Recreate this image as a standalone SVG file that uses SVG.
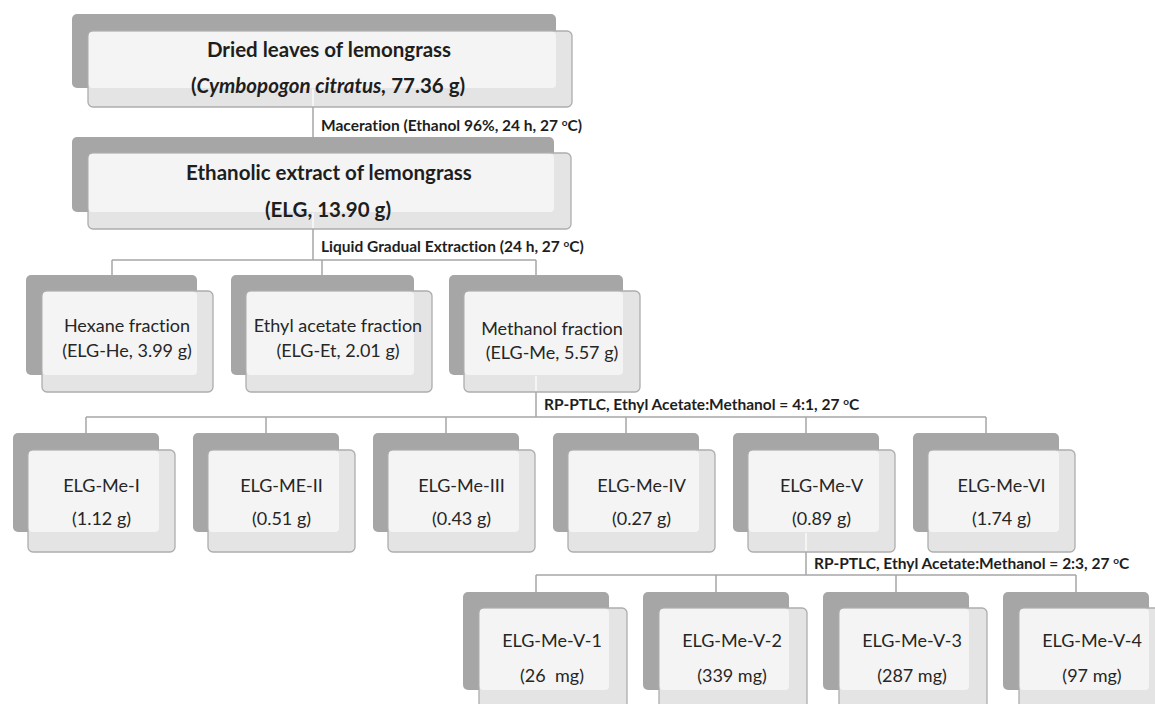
<svg xmlns="http://www.w3.org/2000/svg" width="1155" height="704" viewBox="0 0 1155 704">
<style>
.bk{fill:#a6a6a6}
.fr{fill:#e4e4e4;stroke:#adadad;stroke-width:1.3}
.in{fill:#f4f4f4}
text{font-variant-ligatures:none}
.t{font-family:Lato,"Open Sans","Liberation Sans",sans-serif;font-size:18px;fill:#262626;text-anchor:middle}
.tb{font-family:Lato,"Open Sans","Liberation Sans",sans-serif;font-size:20.5px;font-weight:bold;fill:#1e1e1e;text-anchor:middle}
.lb{font-family:Lato,"Open Sans","Liberation Sans",sans-serif;font-size:15.5px;font-weight:bold;fill:#1e1e1e}
.cn{stroke:#a6a6a6;stroke-width:1.5;fill:none}
.hl{stroke:#fafafa;stroke-width:1.5;fill:none}
</style>
<rect width="1155" height="704" fill="#ffffff"/>

<g id="node-dried-leaves">
<rect class="bk" x="72" y="14" width="484" height="74" rx="5"/>
<rect class="fr" x="88" y="31" width="484" height="76" rx="5"/>
<rect class="in" x="88.7" y="31.7" width="467.3" height="56.3" rx="4"/>
<text class="tb" x="329" y="57">Dried leaves of lemongrass</text>
<text class="tb" x="328" y="93" font-size="21.5">(<tspan font-style="italic">Cymbopogon citratus,</tspan> 77.36 g)</text>
</g>

<g id="node-ethanolic-extract">
<rect class="bk" x="72" y="137" width="482" height="75" rx="5"/>
<rect class="fr" x="88" y="153" width="483" height="76" rx="5"/>
<rect class="in" x="88.7" y="153.7" width="465.3" height="58.3" rx="4"/>
<text class="tb" x="329" y="180" font-size="21">Ethanolic extract of lemongrass</text>
<text class="tb" x="328" y="217" font-size="21">(ELG, 13.90 g)</text>
</g>

<g id="node-hexane">
<rect class="bk" x="26" y="275" width="171" height="100" rx="5"/>
<rect class="fr" x="42" y="291" width="171" height="101" rx="5"/>
<rect class="in" x="42.7" y="291.7" width="154.3" height="83.3" rx="4"/>
<text class="t" x="127" y="332">Hexane fraction</text>
<text class="t" x="127" y="357">(ELG-He, 3.99 g)</text>
</g>

<g id="node-ethyl-acetate">
<rect class="bk" x="231" y="275" width="183" height="100" rx="5"/>
<rect class="fr" x="246" y="291" width="186" height="101" rx="5"/>
<rect class="in" x="246.7" y="291.7" width="167.3" height="83.3" rx="4"/>
<text class="t" x="338" y="332">Ethyl acetate fraction</text>
<text class="t" x="338" y="357">(ELG-Et, 2.01 g)</text>
</g>

<g id="node-methanol">
<rect class="bk" x="449" y="275" width="174" height="100" rx="5"/>
<rect class="fr" x="464" y="291" width="176" height="101" rx="5"/>
<rect class="in" x="464.7" y="291.7" width="158.3" height="83.3" rx="4"/>
<text class="t" x="552" y="335">Methanol fraction</text>
<text class="t" x="552" y="359">(ELG-Me, 5.57 g)</text>
</g>

<g id="node-me-1">
<rect class="bk" x="13" y="433" width="146" height="99" rx="5"/>
<rect class="fr" x="28" y="450" width="147" height="102" rx="5"/>
<rect class="in" x="28.7" y="450.7" width="130.3" height="81.3" rx="4"/>
<text class="t" x="101.5" y="492">ELG-Me-I</text>
<text class="t" x="101.5" y="525">(1.12 g)</text>
</g>
<g id="node-me-2">
<rect class="bk" x="193" y="433" width="146" height="99" rx="5"/>
<rect class="fr" x="208" y="450" width="147" height="102" rx="5"/>
<rect class="in" x="208.7" y="450.7" width="130.3" height="81.3" rx="4"/>
<text class="t" x="281.5" y="492">ELG-ME-II</text>
<text class="t" x="281.5" y="525">(0.51 g)</text>
</g>
<g id="node-me-3">
<rect class="bk" x="373" y="433" width="146" height="99" rx="5"/>
<rect class="fr" x="388" y="450" width="147" height="102" rx="5"/>
<rect class="in" x="388.7" y="450.7" width="130.3" height="81.3" rx="4"/>
<text class="t" x="461.5" y="492">ELG-Me-III</text>
<text class="t" x="461.5" y="525">(0.43 g)</text>
</g>
<g id="node-me-4">
<rect class="bk" x="553" y="433" width="146" height="99" rx="5"/>
<rect class="fr" x="568" y="450" width="147" height="102" rx="5"/>
<rect class="in" x="568.7" y="450.7" width="130.3" height="81.3" rx="4"/>
<text class="t" x="641.5" y="492">ELG-Me-IV</text>
<text class="t" x="641.5" y="525">(0.27 g)</text>
</g>
<g id="node-me-5">
<rect class="bk" x="733" y="433" width="146" height="99" rx="5"/>
<rect class="fr" x="748" y="450" width="147" height="102" rx="5"/>
<rect class="in" x="748.7" y="450.7" width="130.3" height="81.3" rx="4"/>
<text class="t" x="821.5" y="492">ELG-Me-V</text>
<text class="t" x="821.5" y="525">(0.89 g)</text>
</g>
<g id="node-me-6">
<rect class="bk" x="913" y="433" width="146" height="99" rx="5"/>
<rect class="fr" x="928" y="450" width="147" height="102" rx="5"/>
<rect class="in" x="928.7" y="450.7" width="130.3" height="81.3" rx="4"/>
<text class="t" x="1001.5" y="492">ELG-Me-VI</text>
<text class="t" x="1001.5" y="525">(1.74 g)</text>
</g>

<g id="node-me-v-1">
<rect class="bk" x="463" y="592" width="146" height="98" rx="5"/>
<rect class="fr" x="479" y="608" width="148" height="102" rx="5"/>
<rect class="in" x="479.7" y="608.7" width="129.3" height="81.3" rx="4"/>
<text class="t" x="552" y="647">ELG-Me-V-1</text>
<text class="t" x="552" y="682" xml:space="preserve" style="white-space:pre">(26  mg)</text>
</g>
<g id="node-me-v-2">
<rect class="bk" x="643" y="592" width="146" height="98" rx="5"/>
<rect class="fr" x="659" y="608" width="148" height="102" rx="5"/>
<rect class="in" x="659.7" y="608.7" width="129.3" height="81.3" rx="4"/>
<text class="t" x="732" y="647">ELG-Me-V-2</text>
<text class="t" x="732" y="682">(339 mg)</text>
</g>
<g id="node-me-v-3">
<rect class="bk" x="823" y="592" width="146" height="98" rx="5"/>
<rect class="fr" x="839" y="608" width="148" height="102" rx="5"/>
<rect class="in" x="839.7" y="608.7" width="129.3" height="81.3" rx="4"/>
<text class="t" x="912" y="647">ELG-Me-V-3</text>
<text class="t" x="912" y="682">(287 mg)</text>
</g>
<g id="node-me-v-4">
<rect class="bk" x="1003" y="592" width="146" height="98" rx="5"/>
<rect class="fr" x="1019" y="608" width="148" height="102" rx="5"/>
<rect class="in" x="1019.7" y="608.7" width="129.3" height="81.3" rx="4"/>
<text class="t" x="1092" y="647">ELG-Me-V-4</text>
<text class="t" x="1092" y="682">(97 mg)</text>
</g>

<g id="connectors">
<path class="cn" d="M313 107V137"/>
<path class="cn" d="M313 229V260M112 260H536M112 260V275M322 260V275M536 260V275"/>
<path class="cn" d="M536 392V417M86 417H986M86 417V433M266 417V433M446 417V433M626 417V433M806 417V433M986 417V433"/>
<path class="cn" d="M806 552V575M536 575H1076M536 575V592M716 575V592M896 575V592M1076 575V592"/>
<path class="hl" d="M313 89V106M313 213V228M536 376V391M806 533V551"/>
<text class="lb" x="321" y="131">Maceration (Ethanol 96%, 24 h, 27 <tspan font-size="10" dy="-5.5">o</tspan><tspan dy="5.5">C)</tspan></text>
<text class="lb" x="321" y="252">Liquid Gradual Extraction (24 h, 27 <tspan font-size="10" dy="-5.5">o</tspan><tspan dy="5.5">C)</tspan></text>
<text class="lb" x="544" y="410">RP-PTLC, Ethyl Acetate:Methanol = 4:1, 27 <tspan font-size="10" dy="-5.5">o</tspan><tspan dy="5.5">C</tspan></text>
<text class="lb" x="814" y="569">RP-PTLC, Ethyl Acetate:Methanol = 2:3, 27 <tspan font-size="10" dy="-5.5">o</tspan><tspan dy="5.5">C</tspan></text>
</g>
</svg>
